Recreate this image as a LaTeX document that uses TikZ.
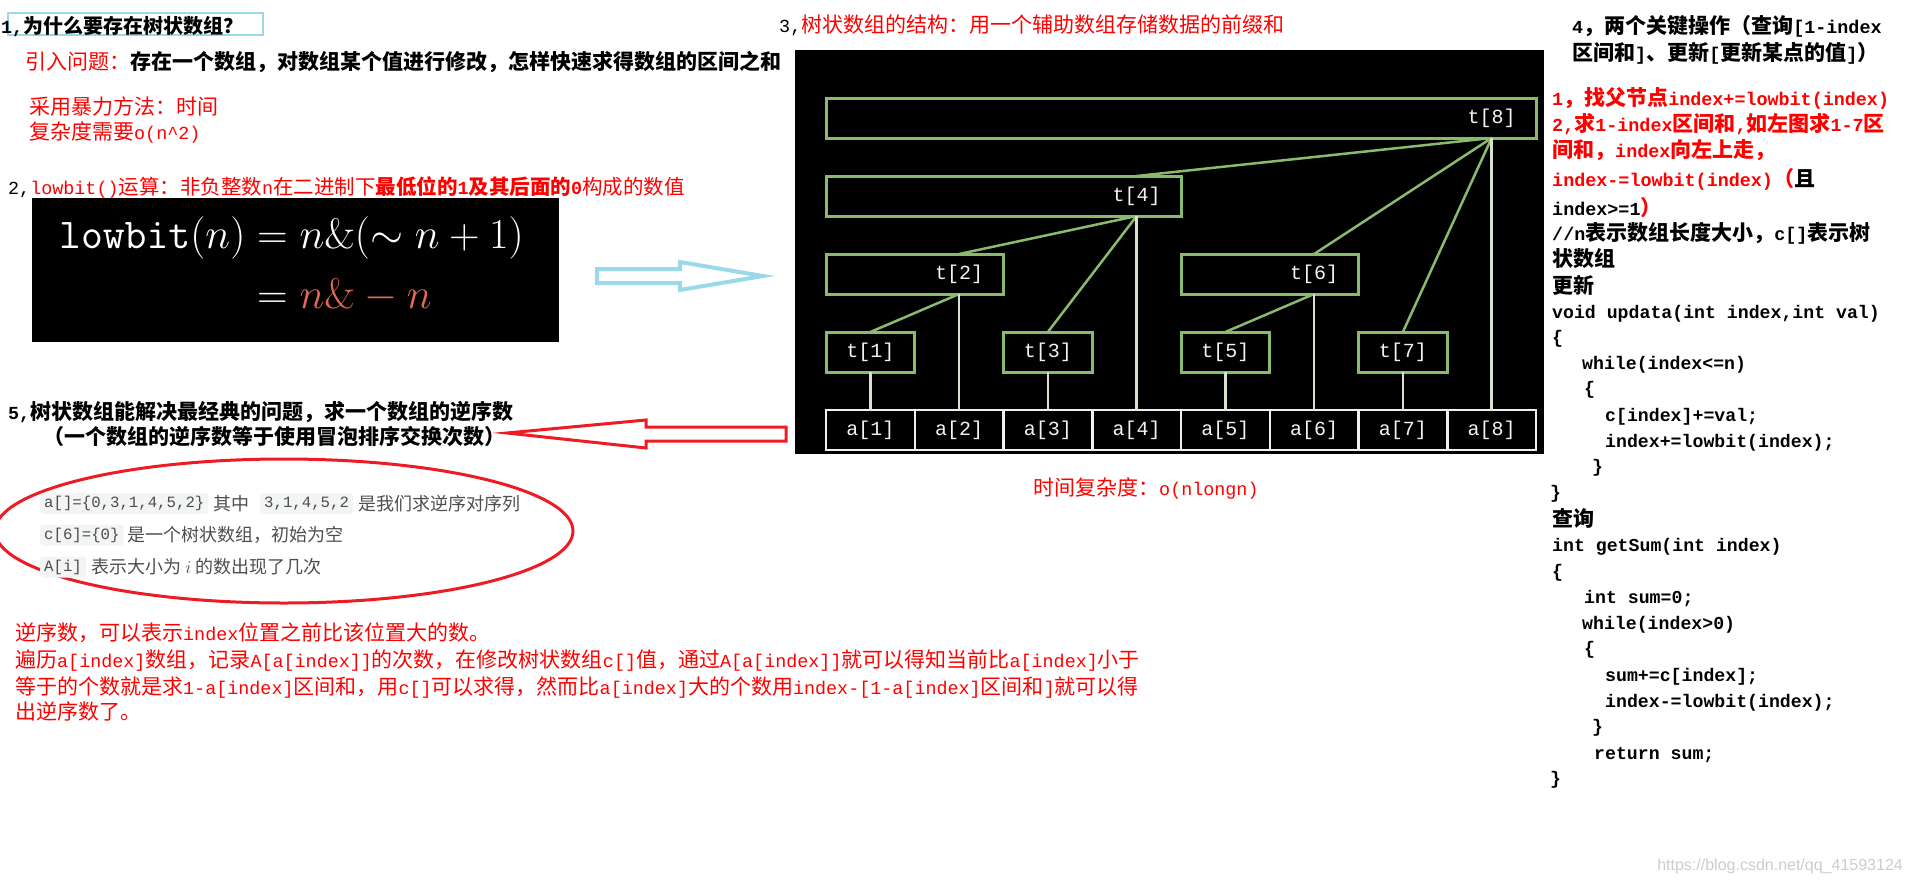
\RequirePackage{fix-cm}
\documentclass[tikz,border=0pt]{standalone}
\usepackage[no-math]{fontspec}
\setmainfont{Noto Sans CJK SC}
\newfontfamily\codefnt{Liberation Mono}
\newfontfamily\webfnt{Liberation Sans}
\usetikzlibrary{positioning, shapes.geometric}
\definecolor{txtred}{RGB}{255,0,0}
\definecolor{paintred}{RGB}{237,28,36}
\definecolor{paintblue}{RGB}{153,217,234}
\definecolor{treegreen}{RGB}{138,186,108}
\definecolor{leafline}{RGB}{215,228,205}
\definecolor{codebg}{RGB}{243,244,244}
\definecolor{notegray}{RGB}{77,77,77}
\definecolor{fmlred}{RGB}{226,106,86}
\newcommand\lat[1]{{\codefnt\fontsize{18.4}{25}\selectfont #1}}
\tikzset{
    % Texts
    txt/.style={anchor=base west, inner sep=0pt, font=\fontsize{21}{25}\selectfont},
    headtxt/.style={txt, font=\fontsize{21}{25}\selectfont\bfseries},
    redtxt/.style={txt, text=txtred},
    codetxt/.style={txt, font=\fontsize{18.2}{25}\selectfont\bfseries\codefnt},
    notetxt/.style={anchor=west, inner sep=0pt, text=notegray, font=\fontsize{18}{22}\selectfont},
    snippet/.style={anchor=west, fill=codebg, rounded corners=3pt, inner xsep=4pt, inner ysep=0pt,
                    minimum height=21pt, text=notegray, font=\fontsize{15.7}{20}\selectfont\codefnt},
    % Tree
    tbox/.style={draw=treegreen, line width=3pt, minimum height=40pt, inner sep=0pt, outer sep=0pt},
    acell/.style={draw=white!94!black, line width=2.5pt, minimum width=88.75pt, minimum height=40pt,
                  inner sep=0pt, outer sep=0pt, text=white!95!black, font=\fontsize{20}{24}\selectfont\codefnt},
    tlbl/.style={inner sep=0pt, text=white!95!black, font=\fontsize{20}{24}\selectfont\codefnt},
    branch/.style={treegreen, line width=2.5pt},
    stem/.style={leafline, line width=2.5pt},
    % Hand drawn marks
    hollow/.style={line width=4pt, line join=miter, fill=white}
}
\begin{document}
\begin{tikzpicture}[x=1pt, y=-1pt]
\useasboundingbox (0,0) rectangle (1913,883);

% 1. why
\draw[paintblue, line width=1.2pt] (8,13) rectangle (263,35);
\node[headtxt, font=\fontsize{20}{24}\selectfont\bfseries] (why) at (1,34) {\lat{1,}为什么要存在树状数组？};
\node[txt] (ask) at (25,70) {\textcolor{txtred}{引入问题：}{\bfseries 存在一个数组，对数组某个值进行修改，怎样快速求得数组的区间之和}};
\node[redtxt] (brute1) at (29,114) {采用暴力方法：时间};
\node[redtxt] (brute2) at (29,139) {复杂度需要\lat{o(n\textasciicircum2)}};

% 2. lowbit
\node[txt, font=\fontsize{20.5}{24}\selectfont] (lbt) at (8,194) {\lat{2,}\textcolor{txtred}{\lat{lowbit()}运算：非负整数\lat{n}在二进制下\textbf{最低位的\lat{1}及其后面的\lat{0}}构成的数值}};
\fill[black] (32,198) rectangle (559,342);
\node[anchor=base west, inner sep=0pt, text=white, font=\fontsize{42.5}{48}\selectfont] (fmlA) at (59,248) {$\mathtt{lowbit}(n)=n\&(\sim n+1)$};
\node[anchor=base west, inner sep=0pt, text=white, font=\fontsize{42.5}{48}\selectfont] (fmlB) at (59,308) {$\phantom{\mathtt{lowbit}(n)}=\textcolor{fmlred}{n\&-n}$};
\draw[hollow, draw=paintblue] (597,269) -- (680,269) -- (680,262) -- (763,276) -- (680,290) -- (680,283) -- (597,283) -- cycle;

% 5. inversions
\node[headtxt] (inv) at (8,419) {\lat{5,}树状数组能解决最经典的问题，求一个数组的逆序数};
\node[headtxt] (bubble) at (43,444) {（一个数组的逆序数等于使用冒泡排序交换次数）};
\draw[hollow, draw=paintred, line width=3pt] (786,427) -- (646,427) -- (646,420) -- (507,433) -- (646,448) -- (646,441) -- (786,441) -- cycle;
\draw[paintred, line width=3pt] (284,531) ellipse [x radius=289pt, y radius=72pt];
\node[snippet] (arr) at (40,503.5) {a[]=\{0,3,1,4,5,2\}};
\node[notetxt, right=5pt of arr] (arrnote) {其中};
\node[snippet, right=10pt of arrnote] (seq) {3,1,4,5,2};
\node[notetxt, right=5pt of seq] (seqnote) {是我们求逆序对序列};
\node[snippet] (tree) at (40,535) {c[6]=\{0\}};
\node[notetxt, right=4pt of tree] (treenote) {是一个树状数组，初始为空};
\node[snippet] (cnt) at (40,567) {A[i]};
\node[notetxt, right=5pt of cnt] (cntnote) {表示大小为 $i$ 的数出现了几次};
\node[redtxt] (para1) at (15,640) {逆序数，可以表示\lat{index}位置之前比该位置大的数。};
\node[redtxt] (para2) at (15,667) {遍历\lat{a[index]}数组，记录\lat{A[a[index]]}的次数，在修改树状数组\lat{c[]}值，通过\lat{A[a[index]]}就可以得知当前比\lat{a[index]}小于};
\node[redtxt] (para3) at (15,694) {等于的个数就是求\lat{1-a[index]}区间和，用\lat{c[]}可以求得，然而比\lat{a[index]}大的个数用\lat{index-[1-a[index]}区间和\lat{]}就可以得};
\node[redtxt] (para4) at (15,719) {出逆序数了。};

% 3. structure
\node[txt] (struct) at (779,33) {\lat{3,}\textcolor{txtred}{树状数组的结构：用一个辅助数组存储数据的前缀和}};
\fill[black] (795,50) rectangle (1544,454);
\node[acell] (a1) at (870.375,430) {a[1]};
\node[acell, right=0pt of a1] (a2) {a[2]};
\node[acell, right=0pt of a2] (a3) {a[3]};
\node[acell, right=0pt of a3] (a4) {a[4]};
\node[acell, right=0pt of a4] (a5) {a[5]};
\node[acell, right=0pt of a5] (a6) {a[6]};
\node[acell, right=0pt of a6] (a7) {a[7]};
\node[acell, right=0pt of a7] (a8) {a[8]};
\node[tbox, minimum width=88.75pt, above=38pt of a1] (t1) {};
\node[tbox, minimum width=88.75pt, above=38pt of a3] (t3) {};
\node[tbox, minimum width=88.75pt, above=38pt of a5] (t5) {};
\node[tbox, minimum width=88.75pt, above=38pt of a7] (t7) {};
\node[tbox, minimum width=177.5pt, anchor=south west] (t2) at ([yshift=38pt]t1.north west) {};
\node[tbox, minimum width=177.5pt, anchor=south west] (t6) at ([yshift=38pt]t5.north west) {};
\node[tbox, minimum width=355pt, anchor=south west] (t4) at ([yshift=38pt]t2.north west) {};
\node[tbox, minimum width=710pt, anchor=south west] (t8) at ([yshift=38pt]t4.north west) {};
\node[tlbl] (lt1) at (t1) {t[1]};
\node[tlbl] (lt2) at (a2 |- t2) {t[2]};
\node[tlbl] (lt3) at (t3) {t[3]};
\node[tlbl] (lt4) at (a4 |- t4) {t[4]};
\node[tlbl] (lt5) at (t5) {t[5]};
\node[tlbl] (lt6) at (a6 |- t6) {t[6]};
\node[tlbl] (lt7) at (t7) {t[7]};
\node[tlbl] (lt8) at (a8 |- t8) {t[8]};

\draw[branch] (a8 |- t8.south) -- (a4 |- t4.north);
\draw[branch] (a8 |- t8.south) -- (a6 |- t6.north);
\draw[branch] (a8 |- t8.south) -- (t7.north);
\draw[branch] (a4 |- t4.south) -- (a2 |- t2.north);
\draw[branch] (a4 |- t4.south) -- (t3.north);
\draw[branch] (a2 |- t2.south) -- (t1.north);
\draw[branch] (a6 |- t6.south) -- (t5.north);
\draw[stem] (t1.south) -- (a1.north);
\draw[stem] (a2 |- t2.south) -- (a2.north);
\draw[stem] (t3.south) -- (a3.north);
\draw[stem] (a4 |- t4.south) -- (a4.north);
\draw[stem] (t5.south) -- (a5.north);
\draw[stem] (a6 |- t6.south) -- (a6.north);
\draw[stem] (t7.south) -- (a7.north);
\draw[stem] (a8 |- t8.south) -- (a8.north);
\node[redtxt] (cplx) at (1033,495) {时间复杂度：\lat{o(nlongn)}};

% 4. operations
\node[headtxt] (ops1) at (1572,34) {\lat{4}，两个关键操作（查询\lat{[1-index}};
\node[headtxt] (ops2) at (1572,60) {区间和\lat{]}、更新\lat{[}更新某点的值\lat{]}）};
\node[headtxt, text=txtred] (rule1) at (1552,105) {\lat{1}，找父节点\lat{index+=lowbit(index)}};
\node[headtxt, text=txtred] (rule2) at (1552,131) {\lat{2,}求\lat{1-index}区间和\lat{,}如左图求\lat{1-7}区};
\node[headtxt, text=txtred] (rule3) at (1552,157) {间和，\lat{index}向左上走，};
\node[headtxt, text=txtred] (rule4) at (1552,186) {\lat{index-=lowbit(index)}（\textcolor{black}{且}};
\node[headtxt] (rule5) at (1552,215) {\lat{index>=1}\textcolor{txtred}{）}};
\node[headtxt] (note1) at (1552,240) {\lat{//n}表示数组长度大小，\lat{c[]}表示树};
\node[headtxt] (note2) at (1552,266) {状数组};
\node[headtxt] (upd) at (1552,293) {更新};
\node[codetxt] (u1) at (1552,318) {void updata(int index,int val)};
\node[codetxt] (u2) at (1552,343) {\{};
\node[codetxt] (u3) at (1582,369) {while(index<=n)};
\node[codetxt] (u4) at (1584,394) {\{};
\node[codetxt] (u5) at (1605,421) {c[index]+=val;};
\node[codetxt] (u6) at (1605,447) {index+=lowbit(index);};
\node[codetxt] (u7) at (1592,472) {\}};
\node[codetxt] (u8) at (1550,498) {\}};
\node[headtxt] (qry) at (1552,526) {查询};
\node[codetxt] (g1) at (1552,551) {int getSum(int index)};
\node[codetxt] (g2) at (1552,577) {\{};
\node[codetxt] (g3) at (1584,603) {int sum=0;};
\node[codetxt] (g4) at (1582,629) {while(index>0)};
\node[codetxt] (g5) at (1584,654) {\{};
\node[codetxt] (g6) at (1605,681) {sum+=c[index];};
\node[codetxt] (g7) at (1605,707) {index-=lowbit(index);};
\node[codetxt] (g8) at (1592,732) {\}};
\node[codetxt] (g9) at (1594,759) {return sum;};
\node[codetxt] (g10) at (1550,784) {\}};
\node[anchor=base east, inner sep=0pt, text=black!20, font=\fontsize{16}{20}\selectfont\webfnt] (mark) at (1903,870) {https://blog.csdn.net/qq\_41593124};

\end{tikzpicture}
\end{document}
